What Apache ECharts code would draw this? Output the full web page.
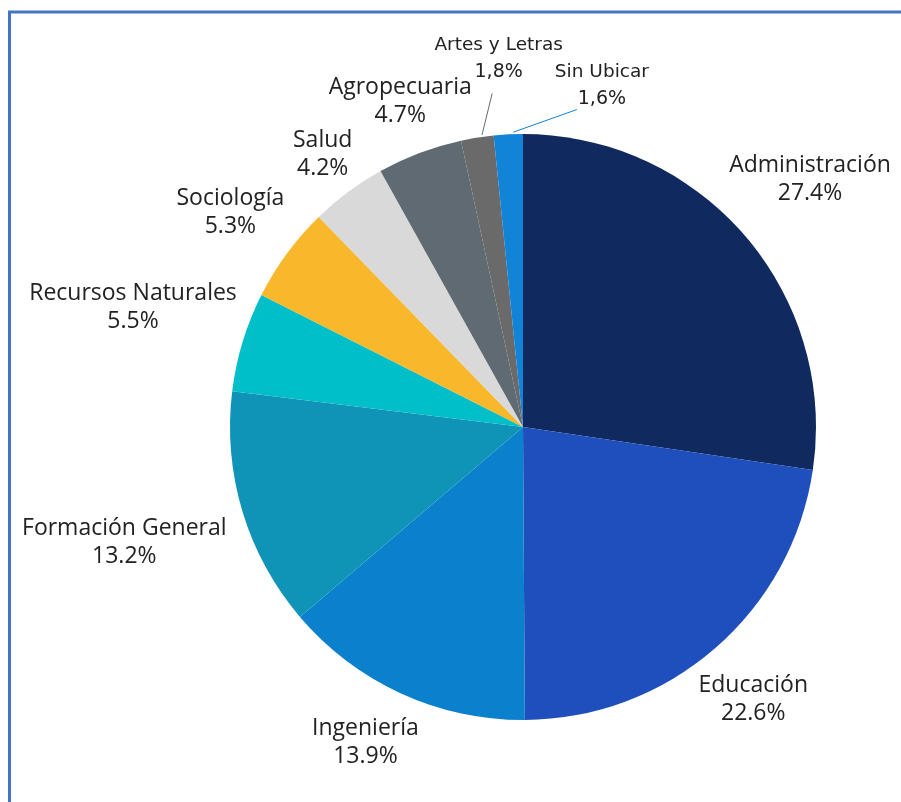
<!DOCTYPE html>
<html>
<head>
<meta charset="utf-8">
<script src="https://cdn.jsdelivr.net/npm/echarts@6/dist/echarts.min.js"></script>
<style>
  html, body { margin: 0; padding: 0; background: #fff; }
  #chart { width: 901px; height: 802px; }
</style>
</head>
<body>
<div id="chart"></div>
<script>
// ---- data ----
var categories = ['Administración', 'Educación', 'Ingeniería', 'Formación General', 'Recursos Naturales',
                  'Sociología', 'Salud', 'Agropecuaria', 'Artes y Letras', 'Sin Ubicar'];
var values = [27.4, 22.6, 13.9, 13.2, 5.5, 5.3, 4.2, 4.7, 1.8, 1.6];
var decimalSep = ['.', '.', '.', '.', '.', '.', '.', '.', ',', ','];
var colors = ['#10295E', '#1E4FBD', '#0B80CD', '#0F94B7', '#00BFC9',
              '#F9B82B', '#D9D9D9', '#5F6A72', '#6A6A6A', '#1184D8'];

// ---- label layout (style, not data) ----
var labelRadius = [379, 357, 353, 415, 408, 363, 338, 348, 369, 350];
var labelShift  = [0, 0.8, 1.9, 0.6, 0.2, 0, 0.3, 0, 5.2, 15.9];
var smallLabel  = [false, false, false, false, false, false, false, false, true, true];
var lineEndRadius = [0, 0, 0, 0, 0, 0, 0, 0, 335, 322];
var lineEndShift  = [0, 0, 0, 0, 0, 0, 0, 0, 3.7, 12.5];

var CX = 523, CY = 427, R = 293;

var total = values.reduce(function (a, b) { return a + b; }, 0);
var midAngles = [];
(function () {
  var cum = 0;
  for (var i = 0; i < values.length; i++) {
    midAngles.push((cum + values[i] / 2) / total * 360);
    cum += values[i];
  }
})();
function polar(angleDeg, r) {
  var a = angleDeg * Math.PI / 180;
  return [CX + r * Math.sin(a), CY - r * Math.cos(a)];
}

var data = categories.map(function (name, i) {
  return {
    name: name,
    value: values[i],
    itemStyle: { color: colors[i] },
    labelLine: { show: smallLabel[i], lineStyle: { width: 1 } }
  };
});

var chart = echarts.init(document.getElementById('chart'), null, { renderer: 'canvas' });
chart.setOption({
  backgroundColor: '#ffffff',
  animation: false,
  graphic: [{
    type: 'rect',
    shape: { x: 9.5, y: 12, width: 1000, height: 1000 },
    style: { fill: 'none', stroke: '#4472C4', lineWidth: 3 },
    silent: true,
    z: 100
  }],
  series: [{
    type: 'pie',
    center: [CX, CY],
    radius: [0, R],
    startAngle: 90,
    clockwise: true,
    avoidLabelOverlap: false,
    data: data,
    label: {
      show: true,
      position: 'outside',
      formatter: function (p) {
        var i = p.dataIndex;
        var pct = String(values[i].toFixed(1)).replace('.', decimalSep[i]) + '%';
        if (smallLabel[i]) return '{sn|' + p.name + '}\n{sp|' + pct + '}';
        return '{n|' + p.name + '}\n{p|' + pct + '}';
      },
      rich: {
        n: { fontFamily: 'Open Sans', fontSize: 23, color: '#222222', lineHeight: 28, align: 'center' },
        p: { fontFamily: 'Open Sans', fontSize: 23, color: '#222222', lineHeight: 28, align: 'center' },
        sn: { fontFamily: 'DejaVu Sans', fontSize: 18.5, color: '#222222', lineHeight: 27, align: 'center' },
        sp: { fontFamily: 'DejaVu Sans', fontSize: 19, color: '#222222', lineHeight: 27, align: 'center' }
      }
    },
    labelLine: { show: false },
    labelLayout: function (params) {
      var i = params.dataIndex;
      var pos = polar(midAngles[i] + labelShift[i], labelRadius[i]);
      var out = { x: pos[0], y: pos[1], align: 'center', verticalAlign: 'middle' };
      if (smallLabel[i]) {
        var s = polar(midAngles[i] + 1, R + 2);
        var e = polar(midAngles[i] + lineEndShift[i], lineEndRadius[i]);
        out.labelLinePoints = [s, e];
      }
      return out;
    },
    emphasis: { disabled: true }
  }]
});
</script>
</body>
</html>
